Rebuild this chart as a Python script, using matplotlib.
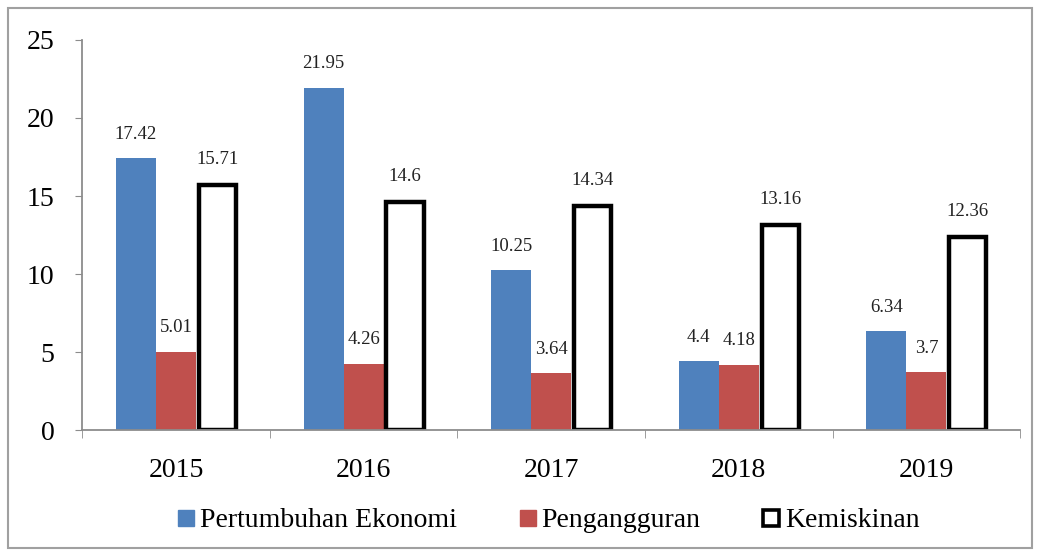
import matplotlib
matplotlib.use("Agg")
import matplotlib.pyplot as plt
from matplotlib.patches import Rectangle
from matplotlib.lines import Line2D
import numpy as np

years = ["2015", "2016", "2017", "2018", "2019"]
pertumbuhan = [17.42, 21.95, 10.25, 4.4, 6.34]
pengangguran = [5.01, 4.26, 3.64, 4.18, 3.7]
kemiskinan = [15.71, 14.6, 14.34, 13.16, 12.36]
series_names = ["Pertumbuhan Ekonomi", "Pengangguran", "Kemiskinan"]
yticks = [0, 5, 10, 15, 20, 25]

plt.rcParams['font.family'] = ['Liberation Serif', 'DejaVu Serif']

fig = plt.figure(figsize=(10.4, 5.55), dpi=100)
ax = fig.add_axes([0.079, 0.225, 0.902, 0.703])

x = np.arange(len(years))
w = 0.213
blue = "#4F81BD"
red = "#C0504D"
axis_c = "#8c8c8c"

b1 = ax.bar(x - w, pertumbuhan, w, color=blue, edgecolor="none")
b2 = ax.bar(x, pengangguran, w, color=red, edgecolor="none")
b3 = ax.bar(x + w + 0.008, kemiskinan, w * 0.93, color="white", edgecolor="black", linewidth=3.2)

for bars, vals, off in ((b1, pertumbuhan, 1.0), (b2, pengangguran, 1.0), (b3, kemiskinan, 1.1)):
    for r, v in zip(bars, vals):
        ax.text(r.get_x() + r.get_width() / 2, v + off, f"{v:g}", ha="center", va="bottom",
                fontsize=13.5, color="#222222")

ax.set_ylim(0, 25)
ax.set_xlim(-0.5, len(years) - 0.5)
ax.set_yticks(yticks)
ax.set_yticklabels([str(t) for t in yticks], fontsize=20)
ax.set_xticks(x)
ax.set_xticklabels(years, fontsize=20)
ax.tick_params(axis="x", length=0, pad=20)
ax.set_xticks(np.arange(-0.5, len(years)), minor=True)
ax.tick_params(axis="x", which="minor", length=6, color=axis_c, direction="out")
ax.tick_params(axis="y", length=5, color=axis_c, direction="out", pad=15)

for s in ("top", "right"):
    ax.spines[s].set_visible(False)
for s in ("left", "bottom"):
    ax.spines[s].set_color(axis_c)
    ax.spines[s].set_linewidth(1.3)

handles = [
    Line2D([], [], marker="s", linestyle="none", markersize=12, markerfacecolor=blue, markeredgecolor=blue),
    Line2D([], [], marker="s", linestyle="none", markersize=12, markerfacecolor=red, markeredgecolor=red),
    Line2D([], [], marker="s", linestyle="none", markersize=11, markerfacecolor="white", markeredgecolor="black", markeredgewidth=2.6),
]
fig.legend(handles, series_names, loc="center", bbox_to_anchor=(0.527, 0.062), ncol=3,
           frameon=False, fontsize=20, handlelength=0.7, handletextpad=0.15, columnspacing=2.2)

fig.patches.append(Rectangle((0.008, 0.013), 0.984, 0.973, transform=fig.transFigure,
                             fill=False, edgecolor="#a0a0a0", linewidth=1.5))

fig.savefig("out.png", dpi=100)
